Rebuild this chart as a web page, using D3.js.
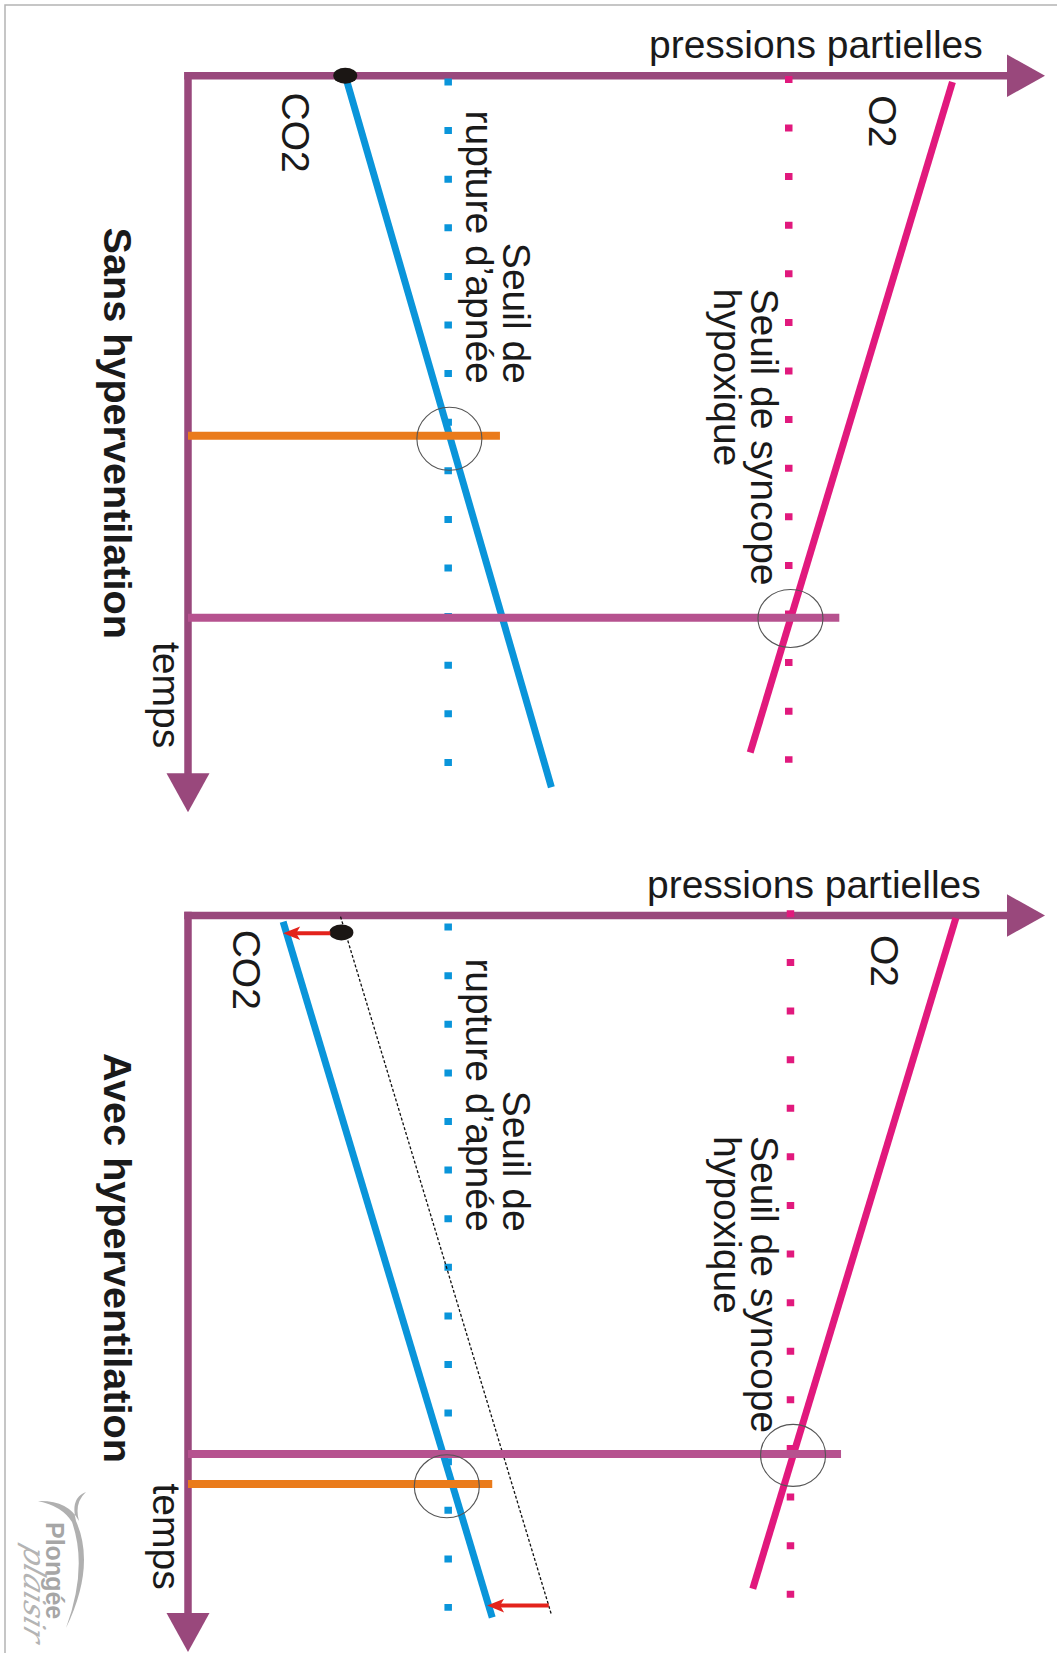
<!DOCTYPE html>
<html>
<head>
<meta charset="utf-8">
<script src="https://cdn.jsdelivr.net/npm/d3@7"></script>
<style>
  body { margin: 0; background: #fff; }
  text { font-family: "Liberation Sans", Arial, sans-serif; fill: #1a1a1a; }
</style>
</head>
<body>
<script>
// pressure runs 0..100 along the horizontal arrow, time 0..100 down the vertical arrow
const titles = ["Sans hyperventilation", "Avec hyperventilation"];
const co2 = [[[18.35, 0], [42.4, 96.6]], [[11.1, 0.85], [35.5, 95.3]]];
const co2Initial = [null, [[17.8, 0.15], [42.4, 94.9]]];
const o2 = [[[89.2, 0.85], [65.6, 91.9]], [[89.6, 0.35], [65.9, 91.4]]];
const apneaThreshold = [30.36, 30.36];
const syncopeThreshold = [70.1, 70.3];
const apneaSpan = [[0.38, 93.8], [1.1, 94.4]];
const syncopeSpan = [[0.03, 93.3], [-0.7, 92.8]];
const apneaBreak = [48.9, 77.2];
const apneaBreakReach = [36.4, 35.5];
const syncopeTime = [73.6, 73.1];
const syncopeReach = [76.0, 76.2];
const markedPoints = [[[30.5, 49.3], [70.3, 73.7]], [[30.2, 77.5], [70.6, 73.3]]];
const startDot = [[18.35, 0], [17.9, 2.3]];
const shiftArrows = [[], [[[16.6, 2.42], [11.1, 2.42]], [[42.1, 93.7], [34.9, 93.7]]]];

const W = 1057, H = 1653;
const purple = "#99487c", pink = "#b6528f", orange = "#ea7b1b",
  blue = "#0a95da", magenta = "#e1197d", red = "#e3231c";

const svg = d3.select("body").append("svg")
  .attr("width", W)
  .attr("height", H);

svg.append("rect").attr("width", W).attr("height", H).attr("fill", "#fff");
svg.append("path")
  .attr("d", `M5,${H} L5,5 L${W},5`)
  .attr("fill", "none")
  .attr("stroke", "#b4b4b4")
  .attr("stroke-width", 1.5);

const x = d3.scaleLinear().domain([0, 100]).range([188, 1045]);
const panelTop = [75.7, 915.5];

function rotText(g, str, px, py, size, opts = {}) {
  return g.append("text")
    .attr("transform", `translate(${px},${py}) rotate(90)`)
    .attr("font-size", size)
    .attr("font-weight", opts.bold ? "bold" : null)
    .attr("text-anchor", opts.anchor || "start")
    .text(str);
}

titles.forEach((title, i) => {
  const y = d3.scaleLinear().domain([0, 100]).range([panelTop[i], panelTop[i] + 736.5]);
  const line = d3.line().x(d => x(d[0])).y(d => y(d[1]));
  const g = svg.append("g");

  // axes with arrow heads
  g.append("line")
    .attr("x1", x(0) - 3.75).attr("x2", x(100) - 36)
    .attr("y1", y(0)).attr("y2", y(0))
    .attr("stroke", purple).attr("stroke-width", 7.5);
  g.append("path")
    .attr("d", `M${x(100)},${y(0)} L${x(100) - 38},${y(0) - 21.2} L${x(100) - 38},${y(0) + 21.2} Z`)
    .attr("fill", purple);
  g.append("line")
    .attr("x1", x(0)).attr("x2", x(0))
    .attr("y1", y(0) - 3.75).attr("y2", y(100) - 37)
    .attr("stroke", purple).attr("stroke-width", 7.5);
  g.append("path")
    .attr("d", `M${x(0)},${y(100)} L${x(0) - 21.5},${y(100) - 39} L${x(0) + 21.5},${y(100) - 39} Z`)
    .attr("fill", purple);

  // dotted thresholds
  g.append("line")
    .attr("x1", x(apneaThreshold[i])).attr("x2", x(apneaThreshold[i]))
    .attr("y1", y(apneaSpan[i][0])).attr("y2", y(apneaSpan[i][1]))
    .attr("stroke", blue).attr("stroke-width", 7.5)
    .attr("stroke-dasharray", "7 41.6");
  g.append("line")
    .attr("x1", x(syncopeThreshold[i])).attr("x2", x(syncopeThreshold[i]))
    .attr("y1", y(syncopeSpan[i][0])).attr("y2", y(syncopeSpan[i][1]))
    .attr("stroke", magenta).attr("stroke-width", 7.5)
    .attr("stroke-dasharray", "7 41.6");

  // CO2 before hyperventilation
  if (co2Initial[i]) {
    g.append("path")
      .attr("d", line(co2Initial[i]))
      .attr("fill", "none")
      .attr("stroke", "#111")
      .attr("stroke-width", 1.3)
      .attr("stroke-dasharray", "3 2");
  }

  g.append("path")
    .attr("d", line(co2[i]))
    .attr("fill", "none").attr("stroke", blue).attr("stroke-width", 7);
  g.append("path")
    .attr("d", line(o2[i]))
    .attr("fill", "none").attr("stroke", magenta).attr("stroke-width", 7);

  // apnea break and syncope moments
  g.append("line")
    .attr("x1", x(0)).attr("x2", x(syncopeReach[i]))
    .attr("y1", y(syncopeTime[i])).attr("y2", y(syncopeTime[i]))
    .attr("stroke", pink).attr("stroke-width", 8);
  g.append("line")
    .attr("x1", x(0)).attr("x2", x(apneaBreakReach[i]))
    .attr("y1", y(apneaBreak[i])).attr("y2", y(apneaBreak[i]))
    .attr("stroke", orange).attr("stroke-width", 8);

  g.selectAll(".mark")
    .data(markedPoints[i])
    .join("ellipse")
    .attr("cx", d => x(d[0]))
    .attr("cy", d => y(d[1]))
    .attr("rx", 32.5)
    .attr("ry", (d, k) => k === 0 ? 31.5 : (i === 0 ? 29 : 31))
    .attr("fill", "none")
    .attr("stroke", "#555")
    .attr("stroke-width", 1.1);

  g.append("ellipse")
    .attr("cx", x(startDot[i][0])).attr("cy", y(startDot[i][1]))
    .attr("rx", 12).attr("ry", 8)
    .attr("fill", "#1b1614");

  shiftArrows[i].forEach(a => {
    const x0 = x(a[0][0]), x1 = x(a[1][0]), yy = y(a[0][1]);
    g.append("line")
      .attr("x1", x0).attr("x2", x1 + 12)
      .attr("y1", yy).attr("y2", yy)
      .attr("stroke", red).attr("stroke-width", 4);
    g.append("path")
      .attr("d", `M${x1},${yy} L${x1 + 17},${yy - 6.8} L${x1 + 13},${yy} L${x1 + 17},${yy + 6.8} Z`)
      .attr("fill", red);
  });

  // labels
  g.append("text")
    .attr("x", i === 0 ? 982.8 : 980.8)
    .attr("y", y(0) - 17.5)
    .attr("font-size", 39)
    .attr("text-anchor", "end")
    .text("pressions partielles");

  const apneaEnd = i === 0 ? 383.8 : 1231.6;
  const syncStart = i === 0 ? 288.5 : 1136;
  rotText(g, "CO2", i === 0 ? 282 : 233, i === 0 ? 92.6 : 929.7, 39);
  rotText(g, "Seuil de", 503, apneaEnd, 39, { anchor: "end" });
  rotText(g, "rupture d\u2019apnée", 466, apneaEnd, 39, { anchor: "end" });
  rotText(g, "Seuil de syncope", 751, syncStart, 39);
  rotText(g, "hypoxique", 714, syncStart, 39);
  rotText(g, "O2", i === 0 ? 869 : 870.5, i === 0 ? 95.3 : 935, 39);
  rotText(g, title, 104, i === 0 ? 227.6 : 1053, 39.6, { bold: true });
  rotText(g, "temps", 153, i === 0 ? 642 : 1483.5, 39);
});

// logo
svg.append("path")
  .attr("d", "M38,1501 Q68,1500 79,1521 Q74,1503 86,1492 Q70,1498 76,1521 Q96,1566 66,1628 Q88,1568 72,1522 Q62,1506 38,1501 Z")
  .attr("fill", "#b0b0b0");
svg.append("text")
  .attr("transform", "translate(46,1522) rotate(90)")
  .attr("font-size", 25)
  .attr("font-weight", "bold")
  .style("fill", "#a6a6a6")
  .text("Plongée");
svg.append("text")
  .attr("transform", "translate(24,1543) rotate(90) skewX(-18)")
  .attr("font-size", 30)
  .attr("font-style", "italic")
  .style("font-family", "'DejaVu Serif', serif")
  .style("fill", "#b4b4b4")
  .text("plaisir");
</script>
</body>
</html>
